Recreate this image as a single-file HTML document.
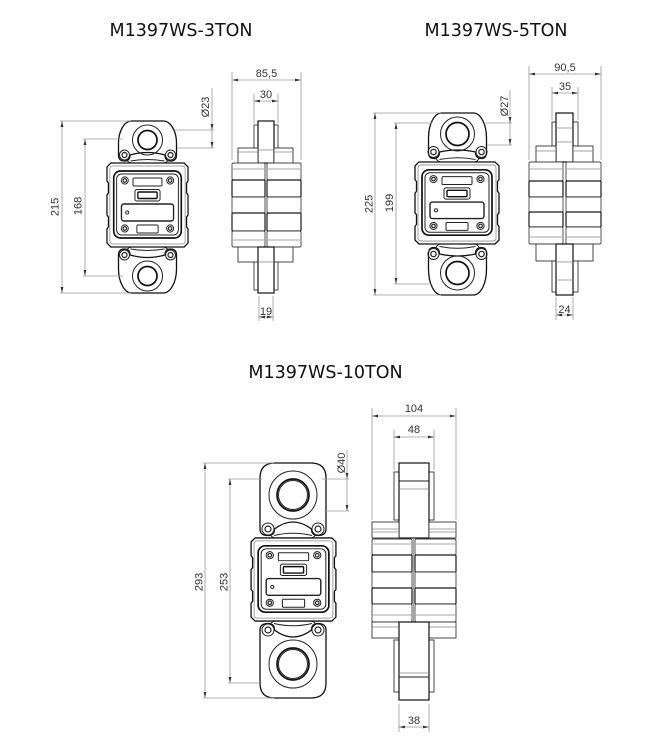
<!DOCTYPE html>
<html><head><meta charset="utf-8">
<style>
html,body{margin:0;padding:0;background:#fff;}
svg{display:block;}
.t{font-family:"DejaVu Sans",Verdana,sans-serif;font-size:17.5px;fill:#111;}
.d{font-family:"Liberation Sans",Arial,sans-serif;font-size:11px;fill:#333;}
.dim{stroke:#9a9a9a;stroke-width:0.8;fill:none;}
.o{stroke:#222;stroke-width:1;fill:none;}
.L{stroke:#111;stroke-width:1.3;fill:#fff;}
.k{stroke:#111;stroke-width:1.7;fill:none;}
.g{stroke:#888;stroke-width:0.8;fill:none;}
.p{stroke:#111;stroke-width:1.2;fill:#fff;}
.s{stroke:#333;stroke-width:0.9;fill:#fff;}
.bl{stroke:#444;stroke-width:0.9;fill:#fff;}
.bd{stroke:#1a1a1a;stroke-width:1.2;fill:#fff;}
</style></head><body>
<svg width="650" height="750" viewBox="0 0 650 750" xmlns="http://www.w3.org/2000/svg">
<defs>
<marker id="a" markerWidth="6" markerHeight="4" refX="6" refY="2" orient="auto-start-reverse" markerUnits="userSpaceOnUse"><path d="M0,0.6 L6,2 L0,3.4Z" fill="#333"/></marker>
<g id="scr"><circle class="o" r="3.6"/><circle class="o" r="1.8" style="stroke-width:1.2"/></g>
<g id="body">
<path class="L" d="M-38,-42 L38,-42 L42,-38 L42,-24 L40.5,-22 L40.5,-12 L42,-10 L42,10 L40.5,12 L40.5,22 L42,24 L42,38 L38,42 L-38,42 L-42,38 L-42,24 L-40.5,22 L-40.5,12 L-42,10 L-42,-10 L-40.5,-12 L-40.5,-22 L-42,-24 L-42,-38Z"/>
<rect class="g" x="-39" y="-39" width="78" height="78" rx="3"/>
<rect class="k" x="-35" y="-34" width="70" height="67" rx="7"/>
<rect class="o" x="-32" y="-31" width="64" height="61" rx="5"/>
<rect class="o" x="-15" y="-27" width="30" height="8" rx="1"/>
<rect class="o" x="-13" y="-15.5" width="26" height="11.5" rx="2"/>
<rect class="k" x="-10" y="-13" width="20" height="6.5" rx="1" style="stroke-width:1.4"/>
<rect class="o" x="-27" y="-1" width="54" height="17" rx="2.5" style="stroke-width:1.4"/>
<circle class="o" cx="-21" cy="7.5" r="1.6"/>
<rect class="o" x="-11" y="20" width="22" height="8" rx="1"/>
<use href="#scr" x="-23.5" y="-24.5"/><use href="#scr" x="23.5" y="-24.5"/>
<use href="#scr" x="-23.5" y="23.5"/><use href="#scr" x="23.5" y="23.5"/>
</g>
</defs>

<!-- Titles -->
<text class="t" x="181" y="36" text-anchor="middle">M1397WS-3TON</text>
<text class="t" x="496" y="36" text-anchor="middle">M1397WS-5TON</text>
<text class="t" x="325.5" y="378" text-anchor="middle">M1397WS-10TON</text>

<!-- ================= 3TON FRONT ================= -->
<g transform="translate(147.5,163) scale(1,-1)">
<path class="L" d="M-29,8 L-29,20 C-29,32 -23,42 -16,42 L16,42 C23,42 29,32 29,20 L29,8 Q29,2 23,2 Q17.5,2 17.5,8 Q0,13 -17.5,8 Q-17.5,2 -23,2 Q-29,2 -29,8Z"/>
<path class="o" d="M-21,3 Q-19,0.5 -16,0 M21,3 Q19,0.5 16,0 M-17,2 Q0,5 17,2"/>
<circle class="o" cx="0" cy="23" r="15"/>
<circle class="k" cx="0" cy="23" r="9.5"/>
<circle class="o" cx="-23" cy="8" r="5"/><circle class="o" cx="-23" cy="8" r="2.5" style="stroke-width:1.2"/>
<circle class="o" cx="23" cy="8" r="5"/><circle class="o" cx="23" cy="8" r="2.5" style="stroke-width:1.2"/>
</g>
<g transform="translate(147.5,247)">
<path class="L" d="M-29,8 L-29,22 C-29,35 -23,46 -16,46 L16,46 C23,46 29,35 29,22 L29,8 Q29,2 23,2 Q17.5,2 17.5,8 Q0,13 -17.5,8 Q-17.5,2 -23,2 Q-29,2 -29,8Z"/>
<path class="o" d="M-21,3 Q-19,0.5 -16,0 M21,3 Q19,0.5 16,0 M-17,2 Q0,5 17,2"/>
<circle class="o" cx="0" cy="29" r="15"/>
<circle class="k" cx="0" cy="29" r="9.5"/>
<circle class="o" cx="-23" cy="8" r="5"/><circle class="o" cx="-23" cy="8" r="2.5" style="stroke-width:1.2"/>
<circle class="o" cx="23" cy="8" r="5"/><circle class="o" cx="23" cy="8" r="2.5" style="stroke-width:1.2"/>
</g>
<use href="#body" transform="translate(147.5,205) scale(0.965,1)"/>

<!-- 3TON front dims -->
<line class="dim" x1="60" y1="121" x2="131" y2="121"/>
<line class="dim" x1="60" y1="293" x2="131" y2="293"/>
<line class="dim" x1="62" y1="121" x2="62" y2="293" marker-start="url(#a)" marker-end="url(#a)"/>
<text class="d" transform="translate(58.5,207) rotate(-90)" text-anchor="middle">215</text>
<line class="dim" x1="83" y1="139" x2="123" y2="139"/>
<line class="dim" x1="83" y1="276" x2="123" y2="276"/>
<line class="dim" x1="85" y1="139" x2="85" y2="276" marker-start="url(#a)" marker-end="url(#a)"/>
<text class="d" transform="translate(81.5,206) rotate(-90)" text-anchor="middle">168</text>
<line class="dim" x1="174" y1="130" x2="214" y2="130"/>
<line class="dim" x1="177" y1="148" x2="214" y2="148"/>
<line class="dim" x1="212" y1="88" x2="212" y2="130" marker-end="url(#a)"/>
<line class="dim" x1="212" y1="130" x2="212" y2="148" marker-end="url(#a)"/>
<text class="d" transform="translate(209,107) rotate(-90)" text-anchor="middle">Ø23</text>

<!-- ================= 3TON SIDE ================= -->
<g>
<rect class="s" x="254" y="125" width="4" height="23"/>
<rect class="s" x="274" y="125" width="4" height="23"/>
<rect class="p" x="258" y="121" width="16" height="42"/>
<line class="g" x1="258" y1="150" x2="274" y2="150"/>
<rect class="s" x="238" y="148" width="20" height="15"/>
<rect class="s" x="274" y="148" width="19" height="15"/>
<line class="g" x1="238" y1="152" x2="258" y2="152"/><line class="g" x1="274" y1="152" x2="293" y2="152"/>
<rect class="bl" x="232" y="163" width="33" height="17" rx="1.5"/><rect class="bl" x="267" y="163" width="34" height="17" rx="1.5"/>
<line class="g" x1="233" y1="169" x2="264" y2="169"/><line class="g" x1="268" y1="169" x2="300" y2="169"/>
<rect class="bd" x="232" y="180" width="33" height="17" rx="1"/><rect class="bd" x="267" y="180" width="34" height="17" rx="1"/>
<rect class="bl" x="232" y="197" width="33" height="16" rx="1"/><rect class="bl" x="267" y="197" width="34" height="16" rx="1"/>
<rect class="bd" x="232" y="213" width="33" height="18" rx="1"/><rect class="bd" x="267" y="213" width="34" height="18" rx="1"/>
<rect class="bl" x="232" y="231" width="33" height="16" rx="1.5"/><rect class="bl" x="267" y="231" width="34" height="16" rx="1.5"/>
<line class="g" x1="233" y1="240" x2="264" y2="240"/><line class="g" x1="268" y1="240" x2="300" y2="240"/>
<rect class="s" x="238" y="247" width="20" height="15"/>
<rect class="s" x="274" y="247" width="19" height="15"/>
<rect class="s" x="254" y="262" width="4" height="28"/>
<rect class="s" x="274" y="262" width="4" height="28"/>
<rect class="p" x="258" y="247" width="16" height="46"/>
<line class="g" x1="258" y1="262" x2="274" y2="262"/>
</g>
<!-- 3TON side dims -->
<line class="dim" x1="232" y1="72" x2="232" y2="160"/>
<line class="dim" x1="301" y1="72" x2="301" y2="160"/>
<line class="dim" x1="232" y1="80" x2="301" y2="80" marker-start="url(#a)" marker-end="url(#a)"/>
<text class="d" x="266.5" y="77" text-anchor="middle">85,5</text>
<line class="dim" x1="254" y1="94" x2="254" y2="123"/>
<line class="dim" x1="278" y1="94" x2="278" y2="123"/>
<line class="dim" x1="254" y1="101" x2="278" y2="101" marker-start="url(#a)" marker-end="url(#a)"/>
<text class="d" x="266" y="98" text-anchor="middle">30</text>
<line class="dim" x1="259" y1="296" x2="259" y2="321"/>
<line class="dim" x1="273" y1="296" x2="273" y2="321"/>
<line class="dim" x1="259" y1="317" x2="273" y2="317" marker-start="url(#a)" marker-end="url(#a)"/>
<text class="d" x="266" y="315" text-anchor="middle">19</text>

<!-- ================= 5TON FRONT ================= -->
<g transform="translate(457.5,162) scale(1,-1)">
<path class="L" d="M-29,10 L-29,24 C-29,38 -23,49 -16,49 L16,49 C23,49 29,38 29,24 L29,10 Q29,3.5 24,3.5 Q18,3.5 18,10 Q0,14 -18,10 Q-18,3.5 -24,3.5 Q-29,3.5 -29,10Z"/>
<path class="o" d="M-22,4 Q-20,0.5 -17,0 M22,4 Q20,0.5 17,0 M-18,2.5 Q0,6 18,2.5"/>
<circle class="o" cx="0" cy="28" r="17"/>
<circle class="k" cx="0" cy="28" r="11.5"/>
<circle class="o" cx="-24" cy="10" r="5.5"/><circle class="o" cx="-24" cy="10" r="2.7" style="stroke-width:1.2"/>
<circle class="o" cx="24" cy="10" r="5.5"/><circle class="o" cx="24" cy="10" r="2.7" style="stroke-width:1.2"/>
</g>
<g transform="translate(457.5,244)">
<path class="L" d="M-29,10 L-29,25 C-29,40 -23,51 -16,51 L16,51 C23,51 29,40 29,25 L29,10 Q29,3.5 24,3.5 Q18,3.5 18,10 Q0,14 -18,10 Q-18,3.5 -24,3.5 Q-29,3.5 -29,10Z"/>
<path class="o" d="M-22,4 Q-20,0.5 -17,0 M22,4 Q20,0.5 17,0 M-18,2.5 Q0,6 18,2.5"/>
<circle class="o" cx="0" cy="29" r="17"/>
<circle class="k" cx="0" cy="29" r="11.5"/>
<circle class="o" cx="-24" cy="10" r="5.5"/><circle class="o" cx="-24" cy="10" r="2.7" style="stroke-width:1.2"/>
<circle class="o" cx="24" cy="10" r="5.5"/><circle class="o" cx="24" cy="10" r="2.7" style="stroke-width:1.2"/>
</g>
<use href="#body" transform="translate(457,203) scale(1,0.976)"/>

<!-- 5TON front dims -->
<line class="dim" x1="373" y1="113" x2="441" y2="113"/>
<line class="dim" x1="373" y1="295" x2="441" y2="295"/>
<line class="dim" x1="375" y1="113" x2="375" y2="295" marker-start="url(#a)" marker-end="url(#a)"/>
<text class="d" transform="translate(372.5,204) rotate(-90)" text-anchor="middle">225</text>
<line class="dim" x1="394" y1="123" x2="432" y2="123"/>
<line class="dim" x1="394" y1="284" x2="432" y2="284"/>
<line class="dim" x1="396" y1="123" x2="396" y2="284" marker-start="url(#a)" marker-end="url(#a)"/>
<text class="d" transform="translate(393,203) rotate(-90)" text-anchor="middle">199</text>
<line class="dim" x1="484" y1="123" x2="512" y2="123"/>
<line class="dim" x1="487" y1="145" x2="512" y2="145"/>
<line class="dim" x1="510" y1="90" x2="510" y2="123" marker-end="url(#a)"/>
<line class="dim" x1="510" y1="123" x2="510" y2="145" marker-end="url(#a)"/>
<text class="d" transform="translate(508,106) rotate(-90)" text-anchor="middle">Ø27</text>

<!-- ================= 5TON SIDE ================= -->
<g>
<rect class="s" x="552" y="122" width="4" height="24"/>
<rect class="s" x="573" y="122" width="5" height="24"/>
<rect class="p" x="556" y="113" width="17" height="49"/>
<line class="g" x1="556" y1="128" x2="573" y2="128"/>
<line class="g" x1="556" y1="142" x2="573" y2="142"/>
<rect class="s" x="536" y="146" width="20" height="16"/>
<rect class="s" x="573" y="146" width="20" height="16"/>
<line class="g" x1="536" y1="151" x2="556" y2="151"/><line class="g" x1="573" y1="151" x2="593" y2="151"/>
<rect class="bl" x="529" y="162" width="34" height="19" rx="1.5"/><rect class="bl" x="566" y="162" width="35" height="19" rx="1.5"/>
<line class="g" x1="530" y1="169" x2="562" y2="169"/><line class="g" x1="567" y1="169" x2="600" y2="169"/>
<rect class="bd" x="529" y="181" width="34" height="16" rx="1"/><rect class="bd" x="566" y="181" width="35" height="16" rx="1"/>
<rect class="bl" x="529" y="197" width="34" height="15" rx="1"/><rect class="bl" x="566" y="197" width="35" height="15" rx="1"/>
<rect class="bd" x="529" y="212" width="34" height="15" rx="1"/><rect class="bd" x="566" y="212" width="35" height="15" rx="1"/>
<rect class="bl" x="529" y="227" width="34" height="17" rx="1.5"/><rect class="bl" x="566" y="227" width="35" height="17" rx="1.5"/>
<line class="g" x1="530" y1="237" x2="562" y2="237"/><line class="g" x1="567" y1="237" x2="600" y2="237"/>
<rect class="s" x="536" y="244" width="20" height="17"/>
<rect class="s" x="573" y="244" width="20" height="17"/>
<rect class="s" x="552" y="261" width="4" height="31"/>
<rect class="s" x="573" y="261" width="5" height="31"/>
<rect class="p" x="556" y="244" width="17" height="51"/>
<line class="g" x1="556" y1="262" x2="573" y2="262"/>
<line class="g" x1="556" y1="280" x2="573" y2="280"/>
</g>
<!-- 5TON side dims -->
<line class="dim" x1="529" y1="66" x2="529" y2="160"/>
<line class="dim" x1="601" y1="66" x2="601" y2="160"/>
<line class="dim" x1="529" y1="74" x2="601" y2="74" marker-start="url(#a)" marker-end="url(#a)"/>
<text class="d" x="565" y="71" text-anchor="middle">90,5</text>
<line class="dim" x1="552" y1="87" x2="552" y2="120"/>
<line class="dim" x1="578" y1="87" x2="578" y2="120"/>
<line class="dim" x1="552" y1="93" x2="578" y2="93" marker-start="url(#a)" marker-end="url(#a)"/>
<text class="d" x="565" y="90" text-anchor="middle">35</text>
<line class="dim" x1="556" y1="297" x2="556" y2="320"/>
<line class="dim" x1="573" y1="297" x2="573" y2="320"/>
<line class="dim" x1="556" y1="315" x2="573" y2="315" marker-start="url(#a)" marker-end="url(#a)"/>
<text class="d" x="564.5" y="313" text-anchor="middle">24</text>

<!-- ================= 10TON FRONT ================= -->
<g transform="translate(293,538) scale(1,-1)">
<path class="L" d="M-33,9 L-33,60 Q-33,75 -18,75 L18,75 Q33,75 33,60 L33,9 Q33,2.5 25,2.5 Q18.5,2.5 18.5,9 Q0,23 -18.5,9 Q-18.5,2.5 -25,2.5 Q-33,2.5 -33,9Z"/>
<path class="o" d="M-23,3.5 Q-21,0.5 -18,0 M23,3.5 Q21,0.5 18,0 M-19,2.5 Q0,7 19,2.5"/>
<circle class="o" cx="0" cy="43" r="24"/>
<circle class="k" cx="0" cy="43" r="16"/>
<circle class="o" cx="0" cy="43" r="14.5"/>
<circle class="o" cx="-25" cy="9" r="6"/><circle class="o" cx="-25" cy="9" r="3" style="stroke-width:1.2"/>
<circle class="o" cx="25" cy="9" r="6"/><circle class="o" cx="25" cy="9" r="3" style="stroke-width:1.2"/>
</g>
<g transform="translate(293,621)">
<path class="L" d="M-33,9 L-33,62 Q-33,77 -18,77 L18,77 Q33,77 33,62 L33,9 Q33,2.5 25,2.5 Q18.5,2.5 18.5,9 Q0,23 -18.5,9 Q-18.5,2.5 -25,2.5 Q-33,2.5 -33,9Z"/>
<path class="o" d="M-23,3.5 Q-21,0.5 -18,0 M23,3.5 Q21,0.5 18,0 M-19,2.5 Q0,7 19,2.5"/>
<circle class="o" cx="0" cy="43" r="24"/>
<circle class="k" cx="0" cy="43" r="16"/>
<circle class="o" cx="0" cy="43" r="14.5"/>
<circle class="o" cx="-25" cy="9" r="6"/><circle class="o" cx="-25" cy="9" r="3" style="stroke-width:1.2"/>
<circle class="o" cx="25" cy="9" r="6"/><circle class="o" cx="25" cy="9" r="3" style="stroke-width:1.2"/>
</g>
<use href="#body" transform="translate(293.5,579.5) scale(1.01,0.99)"/>

<!-- 10TON front dims -->
<line class="dim" x1="203" y1="463" x2="274" y2="463"/>
<line class="dim" x1="203" y1="698" x2="274" y2="698"/>
<line class="dim" x1="205" y1="463" x2="205" y2="698" marker-start="url(#a)" marker-end="url(#a)"/>
<text class="d" transform="translate(202.5,582) rotate(-90)" text-anchor="middle">293</text>
<line class="dim" x1="228" y1="479" x2="262" y2="479"/>
<line class="dim" x1="228" y1="683" x2="262" y2="683"/>
<line class="dim" x1="230" y1="479" x2="230" y2="683" marker-start="url(#a)" marker-end="url(#a)"/>
<text class="d" transform="translate(227.5,582) rotate(-90)" text-anchor="middle">253</text>
<line class="dim" x1="322" y1="479" x2="349" y2="479"/>
<line class="dim" x1="326" y1="511" x2="349" y2="511"/>
<line class="dim" x1="347" y1="450" x2="347" y2="479" marker-end="url(#a)"/>
<line class="dim" x1="347" y1="479" x2="347" y2="511" marker-end="url(#a)"/>
<text class="d" transform="translate(345,463) rotate(-90)" text-anchor="middle">Ø40</text>

<!-- ================= 10TON SIDE ================= -->
<g>
<rect class="s" x="394" y="472" width="5" height="48"/>
<rect class="s" x="429" y="472" width="5" height="48"/>
<rect class="p" x="399" y="463" width="30" height="75"/>
<line class="o" x1="399" y1="481" x2="429" y2="481"/>
<line class="g" x1="399" y1="489" x2="429" y2="489"/>
<rect class="s" x="372" y="522" width="27" height="16"/>
<rect class="s" x="429" y="522" width="27" height="16"/>
<line class="g" x1="372" y1="529" x2="399" y2="529"/><line class="g" x1="429" y1="529" x2="456" y2="529"/>
<line class="g" x1="372" y1="532" x2="399" y2="532"/><line class="g" x1="429" y1="532" x2="456" y2="532"/>
<rect class="bl" x="372" y="539" width="40" height="16" rx="1.5"/><rect class="bl" x="415" y="539" width="41" height="16" rx="1.5"/>
<line class="g" x1="373" y1="544" x2="411" y2="544"/><line class="g" x1="416" y1="544" x2="455" y2="544"/>
<rect class="bd" x="372" y="555" width="40" height="17" rx="1"/><rect class="bd" x="415" y="555" width="41" height="17" rx="1"/>
<rect class="bl" x="372" y="572" width="40" height="16" rx="1"/><rect class="bl" x="415" y="572" width="41" height="16" rx="1"/>
<rect class="bd" x="372" y="588" width="40" height="16" rx="1"/><rect class="bd" x="415" y="588" width="41" height="16" rx="1"/>
<rect class="bl" x="372" y="604" width="40" height="18" rx="1.5"/><rect class="bl" x="415" y="604" width="41" height="18" rx="1.5"/>
<line class="g" x1="373" y1="615" x2="411" y2="615"/><line class="g" x1="416" y1="615" x2="455" y2="615"/>
<line class="g" x1="413.5" y1="538" x2="413.5" y2="622"/>
<rect class="s" x="372" y="622" width="27" height="16"/>
<rect class="s" x="429" y="622" width="27" height="16"/>
<line class="g" x1="372" y1="627" x2="399" y2="627"/><line class="g" x1="429" y1="627" x2="456" y2="627"/>
<rect class="s" x="394" y="640" width="5" height="52"/>
<rect class="s" x="429" y="640" width="5" height="52"/>
<rect class="p" x="399" y="622" width="30" height="78"/>
<line class="g" x1="399" y1="673" x2="429" y2="673"/>
<line class="o" x1="399" y1="677" x2="429" y2="677"/>
</g>
<!-- 10TON side dims -->
<line class="dim" x1="372" y1="408" x2="372" y2="520"/>
<line class="dim" x1="456" y1="408" x2="456" y2="520"/>
<line class="dim" x1="372" y1="416" x2="456" y2="416" marker-start="url(#a)" marker-end="url(#a)"/>
<text class="d" x="414" y="412" text-anchor="middle">104</text>
<line class="dim" x1="394" y1="430" x2="394" y2="470"/>
<line class="dim" x1="434" y1="430" x2="434" y2="470"/>
<line class="dim" x1="394" y1="437" x2="434" y2="437" marker-start="url(#a)" marker-end="url(#a)"/>
<text class="d" x="414" y="433" text-anchor="middle">48</text>
<line class="dim" x1="399" y1="704" x2="399" y2="732"/>
<line class="dim" x1="429" y1="704" x2="429" y2="732"/>
<line class="dim" x1="399" y1="727" x2="429" y2="727" marker-start="url(#a)" marker-end="url(#a)"/>
<text class="d" x="414" y="724" text-anchor="middle">38</text>
</svg>
</body></html>
